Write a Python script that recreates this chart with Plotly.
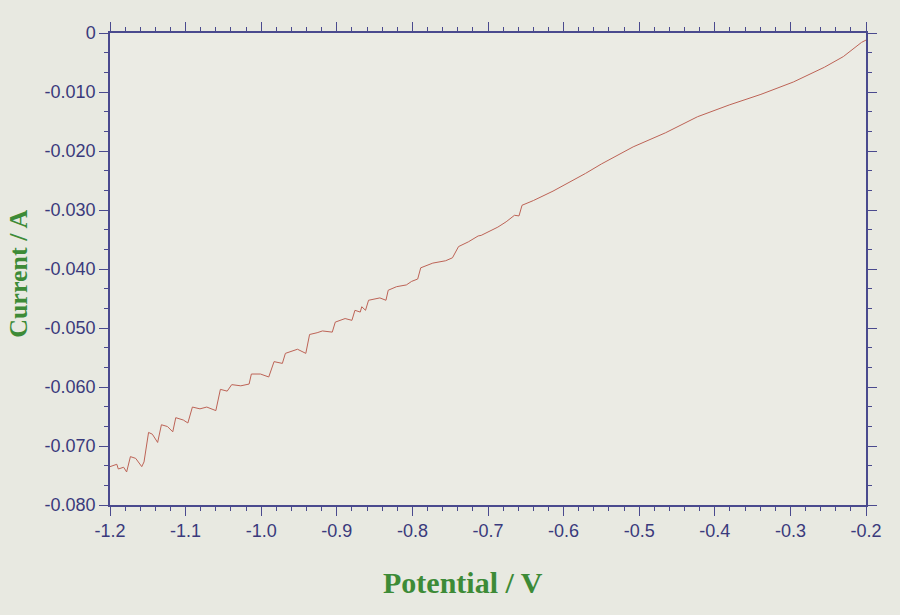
import plotly.graph_objects as go

# Potential (V) and current (A)
potential = [
    -1.200, -1.191, -1.189, -1.182, -1.178, -1.173, -1.166, -1.158, -1.155,
    -1.149, -1.144, -1.137, -1.132, -1.124, -1.117, -1.113, -1.103, -1.097,
    -1.091, -1.081, -1.072, -1.060, -1.054, -1.045, -1.039, -1.027, -1.016,
    -1.013, -1.001, -0.990, -0.983, -0.972, -0.968, -0.952, -0.941, -0.936,
    -0.926, -0.919, -0.906, -0.902, -0.889, -0.880, -0.876, -0.869, -0.867,
    -0.862, -0.858, -0.843, -0.835, -0.832, -0.821, -0.808, -0.801, -0.793,
    -0.789, -0.773, -0.756, -0.747, -0.739, -0.726, -0.713, -0.709, -0.687,
    -0.676, -0.665, -0.659, -0.655, -0.640, -0.614, -0.593, -0.571, -0.550,
    -0.529, -0.508, -0.465, -0.423, -0.381, -0.339, -0.296, -0.255, -0.230,
    -0.222, -0.206, -0.200,
]
current = [
    -0.0735, -0.0731, -0.0739, -0.0736, -0.0744, -0.0718, -0.0721, -0.0735, -0.0727,
    -0.0677, -0.0680, -0.0694, -0.0664, -0.0667, -0.0676, -0.0652, -0.0656, -0.0661,
    -0.0634, -0.0637, -0.0634, -0.0640, -0.0604, -0.0607, -0.0596, -0.0598, -0.0595,
    -0.0578, -0.0578, -0.0583, -0.0557, -0.0560, -0.0543, -0.0536, -0.0543, -0.0511,
    -0.0508, -0.0505, -0.0507, -0.0490, -0.0484, -0.0487, -0.0470, -0.0473, -0.0464,
    -0.0470, -0.0453, -0.0449, -0.0453, -0.0436, -0.0430, -0.0427, -0.0421, -0.0417,
    -0.0398, -0.0390, -0.0386, -0.0381, -0.0362, -0.0354, -0.0344, -0.0343, -0.0329,
    -0.0320, -0.0309, -0.0310, -0.0292, -0.0284, -0.0268, -0.0254, -0.0238, -0.0222,
    -0.0208, -0.0193, -0.0169, -0.0142, -0.0122, -0.0104, -0.0083, -0.0058, -0.0040,
    -0.0032, -0.0016, -0.0012,
]

x_ticks = [-1.2, -1.1, -1.0, -0.9, -0.8, -0.7, -0.6, -0.5, -0.4, -0.3, -0.2]
x_labels = ["-1.2", "-1.1", "-1.0", "-0.9", "-0.8", "-0.7", "-0.6", "-0.5", "-0.4", "-0.3", "-0.2"]
y_ticks = [0, -0.01, -0.02, -0.03, -0.04, -0.05, -0.06, -0.07, -0.08]
y_labels = ["0", "-0.010", "-0.020", "-0.030", "-0.040", "-0.050", "-0.060", "-0.070", "-0.080"]

axis_col = "#4a4a8e"
label_col = "#3a3a7c"
title_col = "#3d8b37"
title_font = dict(family="Liberation Serif, Times New Roman", size=30, color=title_col)

curve = go.Scatter(
    x=potential,
    y=current,
    mode="lines",
    line=dict(color="#bd6356", width=1),
    showlegend=False,
)

axis_common = dict(
    showgrid=False,
    zeroline=False,
    showline=True,
    linecolor=axis_col,
    linewidth=1.5,
    mirror="ticks",
    ticks="outside",
    ticklen=9,
    tickcolor=axis_col,
    tickfont=dict(family="Liberation Sans, Arial", size=18, color=label_col),
    tickmode="array",
)

layout = go.Layout(
    width=900,
    height=615,
    margin=dict(l=110, r=34, t=33, b=110),
    paper_bgcolor="#e8e9e1",
    plot_bgcolor="#ebebe4",
    xaxis=dict(
        axis_common,
        range=[-1.2, -0.2],
        tickvals=x_ticks,
        ticktext=x_labels,
        minor=dict(tick0=-1.2, dtick=0.02, ticks="outside", ticklen=4, tickcolor=axis_col),
    ),
    yaxis=dict(
        axis_common,
        range=[-0.08, 0],
        tickvals=y_ticks,
        ticktext=y_labels,
        minor=dict(tick0=0, dtick=0.01 / 3, ticks="outside", ticklen=4, tickcolor=axis_col),
    ),
    annotations=[
        dict(
            text="<b>Potential / V</b>",
            xref="paper", yref="paper",
            x=0.467, y=-0.165,
            xanchor="center", yanchor="middle",
            showarrow=False,
            font=title_font,
        ),
        dict(
            text="<b>Current / A</b>",
            xref="paper", yref="paper",
            x=-0.142, y=0.49,
            xanchor="left", yanchor="middle",
            textangle=-90,
            showarrow=False,
            font=dict(title_font, size=26),
        ),
    ],
)

fig = go.Figure(data=[curve], layout=layout)
fig.write_html(
    "out.html",
    config={"displayModeBar": False},
    post_script="document.body.style.margin='0';document.body.style.background='#e8e9e1';",
)
